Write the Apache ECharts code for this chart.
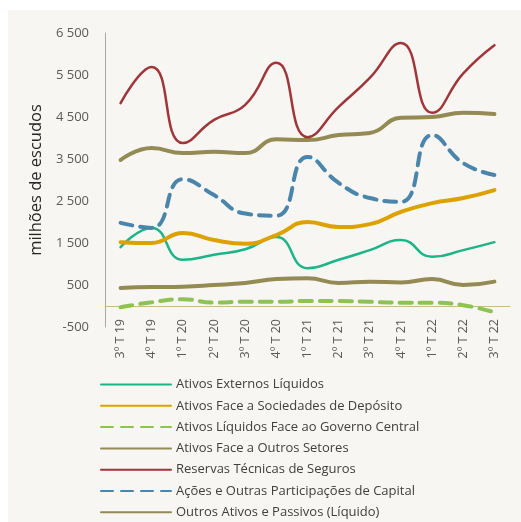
<!DOCTYPE html>
<html>
<head>
<meta charset="utf-8">
<script src="https://cdn.jsdelivr.net/npm/echarts@6/dist/echarts.min.js"></script>
<style>
  html, body { margin: 0; padding: 0; background: #ffffff; }
  #wrap { position: relative; width: 521px; height: 522px; overflow: hidden; background: #ffffff; }
  /* panel runs past the bottom edge so the legend has room for all 7 rows */
  #chart { position: absolute; left: 8px; top: 10px; width: 513px; height: 540px; background: #f7f6f2; }
</style>
</head>
<body>
<div id="wrap"><div id="chart"></div></div>
<script>
// quarters
const categories = ['3º T 19', '4º T 19', '1º T 20', '2º T 20', '3º T 20', '4º T 20', '1º T 21',
  '2º T 21', '3º T 21', '4º T 21', '1º T 22', '2º T 22', '3º T 22']

// milhões de escudos
const ativosExternos = [1400, 1860, 1100, 1220, 1350, 1640, 900, 1100, 1330, 1570, 1170, 1330, 1520]
const sociedadesDeposito = [1520, 1500, 1740, 1570, 1480, 1690, 2000, 1880, 1950, 2240, 2450, 2570, 2760]
const governoCentral = [-30, 90, 160, 80, 100, 100, 120, 120, 100, 80, 80, 20, -150]
const outrosSetores = [3476, 3760, 3640, 3670, 3640, 3970, 3950, 4070, 4120, 4480, 4500, 4600, 4570]
const reservasTecnicas = [4830, 5690, 3880, 4430, 4790, 5790, 4020, 4740, 5430, 6260, 4600, 5540, 6210]
const acoesParticipacoes = [1980, 1860, 3020, 2640, 2200, 2150, 3550, 2930, 2570, 2480, 4070, 3400, 3120]
const outrosAtivosPassivos = [430, 450, 460, 500, 550, 640, 660, 550, 580, 560, 640, 500, 580]

const yTicks = ['-500', '500', '1 500', '2 500', '3 500', '4 500', '5 500', '6 500']

const font = '"Open Sans", sans-serif'

const chart = echarts.init(document.getElementById('chart'))

const line = (name, data, color, width, dashed) => ({
  name,
  type: 'line',
  data,
  smooth: true,
  symbol: 'none',
  legendIcon: 'none',
  lineStyle: {
    color,
    width,
    type: dashed ? [12, 8] : 'solid',
    cap: 'round',
  },
  itemStyle: { color },
})

chart.setOption({
  animation: false,
  textStyle: { fontFamily: font },
  grid: {
    left: 97,
    right: 11,
    top: 23,
    bottom: 223,
  },
  legend: {
    orient: 'vertical',
    left: 92,
    top: 368,
    padding: 0,
    itemWidth: 70,
    itemHeight: 13,
    itemGap: 8.3,
    itemStyle: { opacity: 0 },
    textStyle: { color: '#404040', fontSize: 13, lineHeight: 13, fontFamily: font },
    data: [
      'Ativos Externos Líquidos',
      'Ativos Face a Sociedades de Depósito',
      'Ativos Líquidos Face ao Governo Central',
      'Ativos Face a Outros Setores',
      'Reservas Técnicas de Seguros',
      'Ações e Outras Participações de Capital',
      'Outros Ativos e Passivos (Líquido)',
    ],
  },
  xAxis: {
    type: 'category',
    data: categories,
    boundaryGap: true,
    axisLine: { onZero: true, lineStyle: { color: '#c9b98f', width: 1 } },
    axisTick: { show: false },
    axisLabel: {
      rotate: 90,
      margin: -8,
      color: '#595959',
      fontSize: 12.5,
      fontFamily: font,
    },
    splitLine: { show: false },
  },
  yAxis: {
    type: 'value',
    min: -500,
    max: 6500,
    interval: 1000,
    name: 'milhões de escudos',
    nameLocation: 'middle',
    nameGap: 56,
    nameTextStyle: { color: '#262626', fontSize: 16.5, fontFamily: font },
    axisLine: { show: true, onZero: false, lineStyle: { color: '#a6a6a6', width: 1 } },
    axisTick: { show: false },
    splitLine: { show: false },
    axisLabel: {
      margin: 16,
      color: '#595959',
      fontSize: 13,
      fontFamily: font,
      formatter: (v) => yTicks[Math.round((v + 500) / 1000)],
    },
  },
  series: [
    line('Ativos Externos Líquidos', ativosExternos, '#1db588', 2.5, false),
    line('Ativos Face a Sociedades de Depósito', sociedadesDeposito, '#dda200', 4, false),
    line('Ativos Líquidos Face ao Governo Central', governoCentral, '#8fc255', 4, true),
    line('Ativos Face a Outros Setores', outrosSetores, '#948a54', 4, false),
    line('Reservas Técnicas de Seguros', reservasTecnicas, '#a0363a', 2.5, false),
    line('Ações e Outras Participações de Capital', acoesParticipacoes, '#4a85ac', 4, true),
    line('Outros Ativos e Passivos (Líquido)', outrosAtivosPassivos, '#948a54', 4, false),
  ],
})
</script>
</body>
</html>
